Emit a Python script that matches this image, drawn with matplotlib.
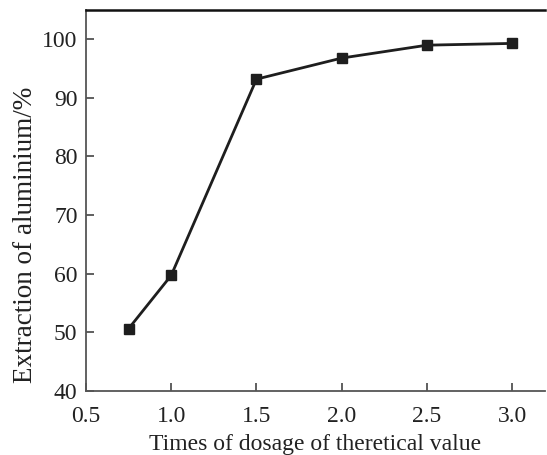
import matplotlib.pyplot as plt

# dosage multiple vs. aluminium extraction
dosage = [0.75, 1.0, 1.5, 2.0, 2.5, 3.0]
extraction = [50.6, 59.7, 93.2, 96.8, 99.0, 99.3]

x_ticks = [0.5, 1.0, 1.5, 2.0, 2.5, 3.0]
y_ticks = [40, 50, 60, 70, 80, 90, 100]

plt.rcParams["font.family"] = ["Liberation Serif", "DejaVu Serif"]
plt.rcParams["font.size"] = 17

fig = plt.figure(figsize=(5.47, 4.55), dpi=100)
ax = fig.add_axes([0.157, 0.141, 0.839, 0.837])

ax.plot(dosage, extraction, color="#1e1e1e", linewidth=2, marker="s",
        markersize=6.5, markerfacecolor="#1e1e1e", markeredgecolor="#1e1e1e")

ax.set_xlim(0.5, 3.19)
ax.set_ylim(40, 105)
ax.set_xticks(x_ticks)
ax.set_xticklabels([f"{v:.1f}" for v in x_ticks])
ax.set_yticks(y_ticks)

ax.tick_params(direction="in", length=6, width=1.2, color="#444444",
               labelcolor="#222222")
ax.tick_params(axis="x", pad=11)
ax.tick_params(axis="y", pad=6)
for side in ("left", "bottom"):
    ax.spines[side].set_color("#555555")
    ax.spines[side].set_linewidth(1.3)
ax.spines["top"].set_color("#111111")
ax.spines["top"].set_linewidth(1.8)
ax.spines["right"].set_visible(False)

ax.set_xlabel("Times of dosage of theretical value", color="#222222", labelpad=5)
ax.set_ylabel("Extraction of aluminium/%", color="#222222", fontsize=19.5)
ax.yaxis.set_label_coords(-0.105, 0.41)

fig.savefig("out.png", dpi=100)
